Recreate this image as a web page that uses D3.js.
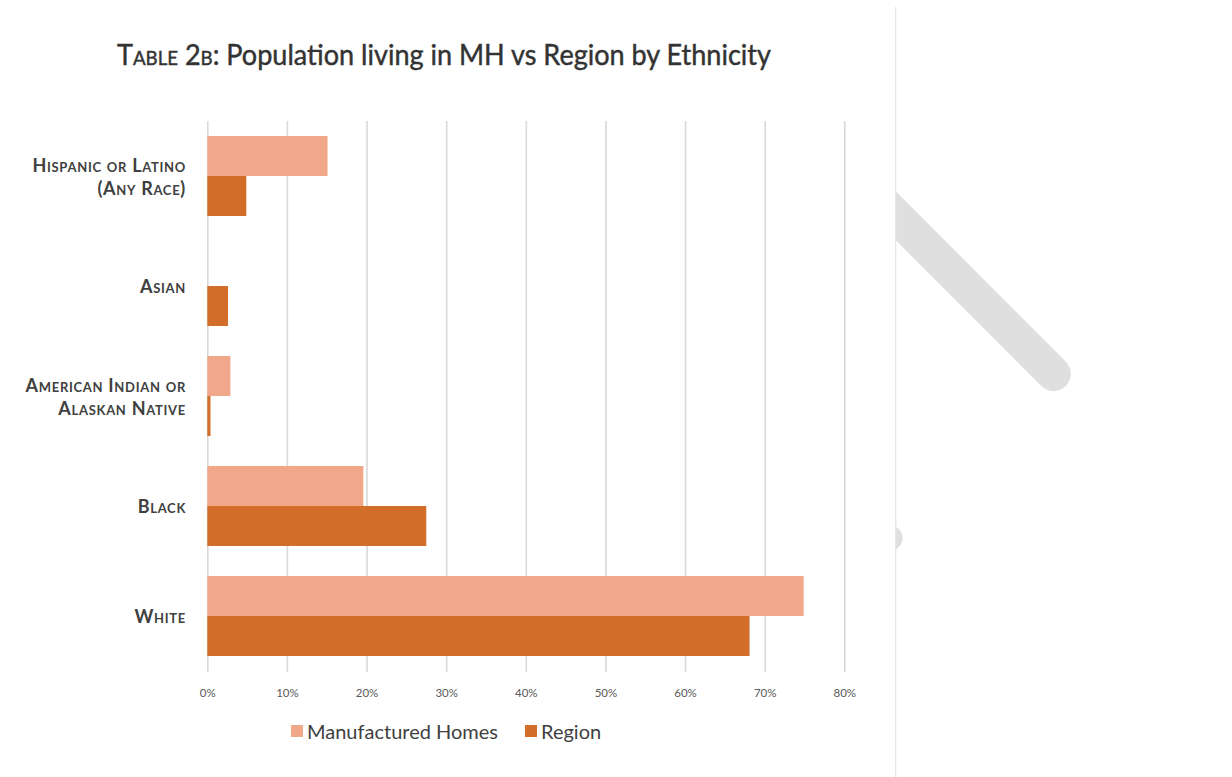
<!DOCTYPE html>
<html>
<head>
<meta charset="utf-8">
<script src="https://cdn.jsdelivr.net/npm/d3@7/dist/d3.min.js"></script>
<style>
  html, body { margin: 0; padding: 0; background: #ffffff; }
  svg { display: block; }
  text { font-family: Lato, "Open Sans", "DejaVu Sans", sans-serif; }
</style>
</head>
<body>
<svg id="chart" width="1232" height="777"></svg>
<script>
// Ethnicity groups (top to bottom) and their wrapped label lines
const categories = ["Hispanic or Latino (Any Race)", "Asian", "American Indian or Alaskan Native", "Black", "White"];
const categoryLines = [["Hispanic or Latino", "(Any Race)"], ["Asian"], ["American Indian or", "Alaskan Native"], ["Black"], ["White"]];

// Share of population (%) for each group
const seriesNames = ["Manufactured Homes", "Region"];
const manufacturedHomes = [15.1, 0, 2.9, 19.6, 74.9];
const region = [4.9, 2.6, 0.4, 27.5, 68.1];

// Axis ticks
const xTicks = [0, 10, 20, 30, 40, 50, 60, 70, 80];
const tickLabels = ["0%", "10%", "20%", "30%", "40%", "50%", "60%", "70%", "80%"];

const colors = { "Manufactured Homes": "#f0a78a", "Region": "#d36e2a" };

const svg = d3.select("#chart");

// Decorative panel edge and stroke on the right
const deco = svg.append("g");
deco.append("clipPath").attr("id", "rightSide")
  .append("rect").attr("x", 896).attr("y", 0).attr("width", 336).attr("height", 777);
const decoG = deco.append("g").attr("clip-path", "url(#rightSide)");
decoG.append("line")
  .attr("x1", 860).attr("y1", 180).attr("x2", 1053.5).attr("y2", 373.7)
  .attr("stroke", "#dfdfdf").attr("stroke-width", 34.6).attr("stroke-linecap", "round");
decoG.append("circle").attr("cx", 890).attr("cy", 538).attr("r", 12.6).attr("fill", "#dfdfdf");
deco.append("line")
  .attr("x1", 895.7).attr("x2", 895.7).attr("y1", 7).attr("y2", 777)
  .attr("stroke", "#e4e4e4").attr("stroke-width", 1.2);

// Title
const title = svg.append("text")
  .attr("x", 117).attr("y", 65)
  .attr("font-size", 29).attr("fill", "#333333")
  .attr("stroke", "#333333").attr("stroke-width", 0.45)
  .attr("textLength", 654).attr("lengthAdjust", "spacingAndGlyphs");
title.append("tspan").style("font-variant", "small-caps").text("Table 2b");
title.append("tspan").text(": Population living in MH vs Region by Ethnicity");

// Scales
const x = d3.scaleLinear().domain([0, 80]).range([207.3, 844.3]);
const y = d3.scaleBand().domain(categories).range([121, 671])
  .paddingInner(30 / 110).paddingOuter(15 / 110);
const ySub = d3.scaleBand().domain(seriesNames).range([0, y.bandwidth()]);

// Vertical gridlines with tick labels
const xAxis = d3.axisBottom(x).tickValues(xTicks)
  .tickSize(-(671 - 120)).tickPadding(17)
  .tickFormat((d, i) => tickLabels[i]);
const gx = svg.append("g").attr("transform", "translate(0,672)").call(xAxis);
gx.select(".domain").remove();
gx.selectAll(".tick line").attr("stroke", "#d9d9d9").attr("stroke-width", 1.6);
gx.selectAll(".tick text").attr("fill", "#595959").attr("font-size", 11.5)
  .attr("font-family", "Lato, 'Open Sans', sans-serif");

// Bars
const rows = categories.map((c, i) => ({
  category: c,
  values: [
    { series: "Manufactured Homes", value: manufacturedHomes[i] },
    { series: "Region", value: region[i] }
  ]
}));
const groups = svg.append("g").selectAll("g").data(rows).join("g")
  .attr("transform", d => `translate(0,${y(d.category)})`);
groups.selectAll("rect").data(d => d.values).join("rect")
  .attr("x", x(0))
  .attr("y", d => ySub(d.series))
  .attr("width", d => x(d.value) - x(0))
  .attr("height", ySub.bandwidth())
  .attr("fill", d => colors[d.series]);

// Category labels (small caps, right aligned)
const labels = svg.append("g").selectAll("text").data(categories).join("text")
  .attr("text-anchor", "end")
  .attr("font-size", 18).attr("font-weight", 700)
  .attr("letter-spacing", 0.7)
  .attr("fill", "#404040")
  .style("font-variant", "small-caps")
  .attr("transform", d => `translate(186,${y(d) + y.bandwidth() / 2})`);
labels.each(function (d, i) {
  const lines = categoryLines[i];
  const lh = 23;
  const start = -(lines.length - 1) * lh / 2 + 7;
  d3.select(this).selectAll("tspan").data(lines).join("tspan")
    .attr("x", 0).attr("y", (l, j) => start + j * lh)
    .text(l => l);
});

// Legend
const legend = svg.append("g").attr("transform", "translate(291,725)");
let lx = 0;
seriesNames.forEach(name => {
  const item = legend.append("g").attr("transform", `translate(${lx},0)`);
  item.append("rect").attr("width", 12).attr("height", 12).attr("fill", colors[name]);
  const t = item.append("text").attr("x", 16).attr("y", 13.5)
    .attr("font-size", 20).attr("fill", "#404040").text(name);
  lx += 16 + t.node().getComputedTextLength() + 27;
});
</script>
</body>
</html>
